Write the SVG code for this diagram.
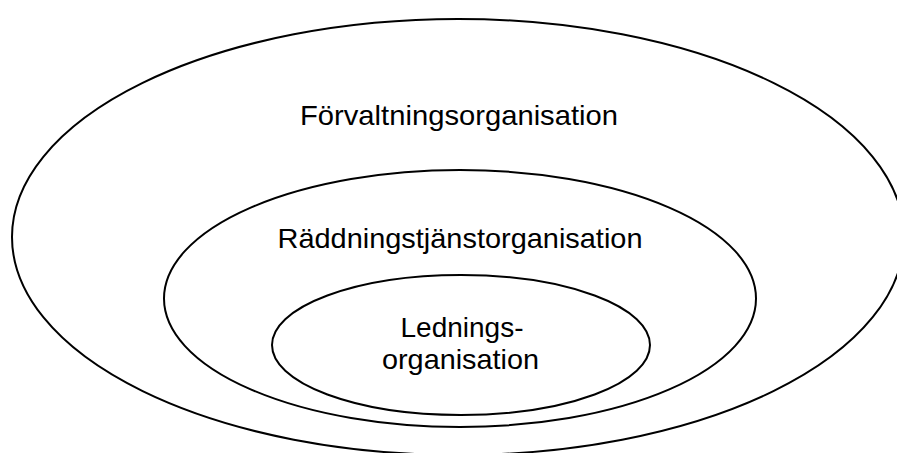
<svg xmlns="http://www.w3.org/2000/svg" width="897" height="453" viewBox="0 0 897 453">
  <style>
    .ring { fill: none; stroke: #000; stroke-width: 2; }
    .lbl { font-family: "Liberation Sans", Arial, sans-serif; font-size: 28px; fill: #000; text-anchor: middle; }
  </style>
  <rect x="0" y="0" width="897" height="453" fill="#fff"/>
  <g id="forvaltningsorganisation">
    <ellipse class="ring" cx="458" cy="237" rx="446" ry="218"/>
    <text class="lbl" x="459" y="124.5" textLength="318" lengthAdjust="spacingAndGlyphs">Förvaltningsorganisation</text>
  </g>
  <g id="raddningstjanstorganisation">
    <ellipse class="ring" cx="460" cy="298.5" rx="296" ry="128.5"/>
    <text class="lbl" x="460" y="247.5" textLength="365" lengthAdjust="spacingAndGlyphs">Räddningstjänstorganisation</text>
  </g>
  <g id="ledningsorganisation">
    <ellipse class="ring" cx="461" cy="345" rx="189" ry="70"/>
    <text class="lbl" x="462" y="337" textLength="123" lengthAdjust="spacingAndGlyphs">Lednings-</text>
    <text class="lbl" x="460.5" y="369" textLength="157" lengthAdjust="spacingAndGlyphs">organisation</text>
  </g>
</svg>
